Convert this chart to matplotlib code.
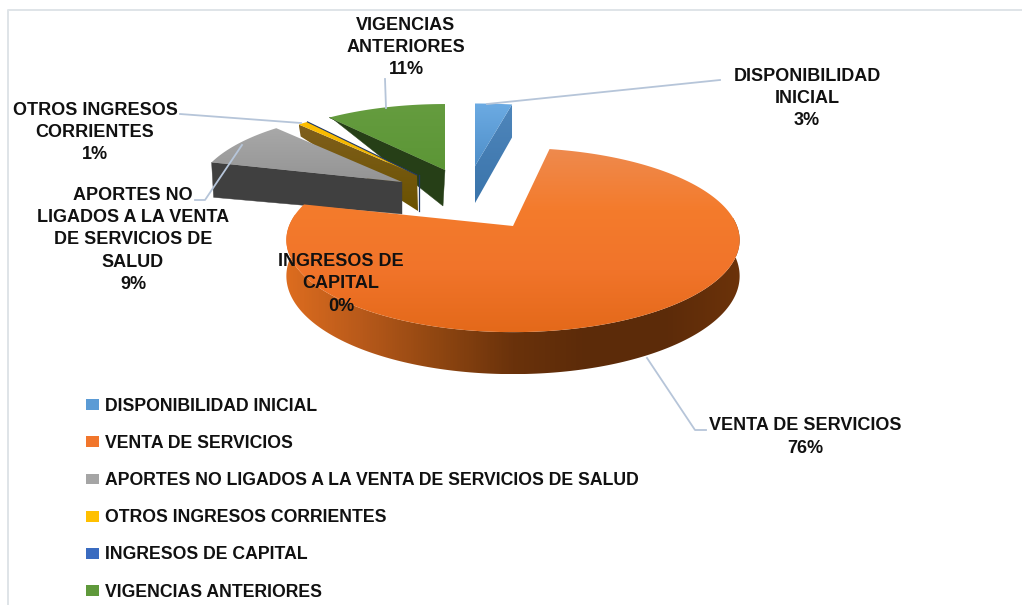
import matplotlib
matplotlib.use("Agg")
import matplotlib.pyplot as plt
import matplotlib.colors as mcolors
from matplotlib.patches import Patch, Polygon
import numpy as np

# Data
categories = [
    "DISPONIBILIDAD INICIAL",
    "VENTA DE SERVICIOS",
    "APORTES NO LIGADOS A LA VENTA DE SERVICIOS DE SALUD",
    "OTROS INGRESOS CORRIENTES",
    "INGRESOS DE CAPITAL",
    "VIGENCIAS ANTERIORES",
]
values = [3, 76, 9, 1, 0, 11]
wrapped_labels = [
    "DISPONIBILIDAD\nINICIAL",
    "VENTA DE SERVICIOS",
    "APORTES NO\nLIGADOS A LA VENTA\nDE SERVICIOS DE\nSALUD",
    "OTROS INGRESOS\nCORRIENTES",
    "INGRESOS DE\nCAPITAL",
    "VIGENCIAS\nANTERIORES",
]

# Styles and layout (pixels of the 1022x605 picture)
swatches = ["#5b9bd5", "#f1762c", "#a5a5a5", "#ffc000", "#3a6bc0", "#5f993b"]
wall_colors = ["#3f78ad", "#5c2b09", "#404040", "#6e5400", "#203864", "#263f17"]
centers = [(475, 166), (513, 226), (402, 182), (417, 175), (417, 175), (445, 170)]
radii_x = [227, 224, 204, 192, 192, 203]
radii_y = [72, 90, 82, 77, 77, 76]
depths = [37, 42, 32, 36, 36, 36]
outer_depths = [33, 0, 35, 12, 0, 0]
wall_shift = [0, 0, 0, 1, 0, -2]
label_pos = [(807, 98.5), (805, 437), (133, 240), (95, 132.5), (341, 284), (406, 47.5)]
perspective = 0.152
font = "Liberation Sans"
fsize = 13
legend_fsize = 12.7
leader = "#b6c5d9"


def project(i, theta):
    # clockwise from the top of the pie, with the back of the pie a bit smaller
    sx, cy_ = np.sin(theta), np.cos(theta)
    w = 1 + perspective * cy_
    return (centers[i][0] + radii_x[i] * sx / w, centers[i][1] - radii_y[i] * cy_ / w)


def gradient_fill(ax, poly, stops, zorder, horizontal=False):
    verts = np.array(poly)
    x0, y0 = verts.min(axis=0)
    x1, y1 = verts.max(axis=0)
    cmap = mcolors.LinearSegmentedColormap.from_list("g", stops)
    ramp = np.linspace(0, 1, 128)
    ramp = ramp.reshape(1, -1) if horizontal else ramp.reshape(-1, 1)
    im = ax.imshow(ramp, cmap=cmap, aspect="auto", extent=(x0, x1, y1, y0),
                   zorder=zorder, interpolation="bilinear")
    im.set_clip_path(Polygon(poly, closed=True, transform=ax.transData))


fig = plt.figure(figsize=(10.22, 6.05), dpi=100)
ax = fig.add_axes([0, 0, 1, 1])
ax.axis("off")

# Slices, back ones first
edges = np.cumsum([0] + values) / sum(values) * 2 * np.pi
top_shades = {
    0: ["#6cabe3", "#4f8fc9"],
    1: ["#ee8a4e", "#f47b2c", "#f1742a", "#e4691a"],
    2: ["#a8a8a8", "#949494"],
    3: ["#ffc000", "#e8ae00"],
    5: ["#659c3f", "#5c9636"],
}
order = [5, 3, 4, 2, 0, 1]
for i in order:
    a0, a1 = edges[i], edges[i + 1]
    thetas = np.linspace(a0, a1, max(int((a1 - a0) * 60), 2))
    arc = [project(i, t) for t in thetas]
    cx, cy = centers[i]
    d = depths[i]
    z = 2 + order.index(i) * 0.1

    if values[i] == 0:
        # zero share: only a thin edge shows
        ax.plot([cx, arc[0][0]], [cy, arc[0][1]], color=wall_colors[i], lw=0.8, zorder=z + 0.05)
        ax.plot([cx + 1.5, cx + 1.5], [cy, cy + d], color=wall_colors[i], lw=0.9, zorder=z + 0.05)
        continue

    if i == 1:
        # outer wall, shading runs from light on the left to dark on the right
        front = [t for t in thetas if np.pi / 2 - 0.1 < t < 1.5 * np.pi + 0.15]
        upper = [project(i, t) for t in front]
        lower = [(p[0], p[1] + d - 7 * (1 + np.cos(t))) for p, t in zip(upper, front)]
        wall = upper + lower[::-1]
        gradient_fill(ax, wall, ["#dc6c1f", "#b7591a", "#8f4611", "#6a320b", "#5c2b09",
                                 "#5c2b09", "#6b3209"], z, horizontal=True)
    elif i == 0:
        # blue: right cut face is visible
        p = arc[-1]
        wall = [p, (p[0], p[1] + outer_depths[i]), (cx, cy + d), (cx, cy)]
        gradient_fill(ax, wall, ["#4f86bb", "#3a74ab"], z)
    else:
        # cut face at the start of the slice
        p = arc[0]
        wall = [p, (p[0] + 2, p[1] + outer_depths[i]), (cx + wall_shift[i], cy + d), (cx, cy)]
        if i == 3:
            gradient_fill(ax, wall, ["#805f1c", "#6a5200"], z)
        else:
            ax.add_patch(Polygon(wall, closed=True, fc=wall_colors[i], ec=wall_colors[i], lw=0.3, zorder=z))

    gradient_fill(ax, [(cx, cy)] + arc, top_shades[i], z + 0.03)

# Frame of the chart
ax.plot([8, 8, 1022], [605, 10, 10], color="#dfe4e8", lw=1.4, zorder=1)

# Leader lines
leaders = [
    ([487, 720], [104, 80]),
    ([647, 695, 706], [358, 430, 430]),
    ([242, 205, 195], [145, 200, 200]),
    ([301, 180], [123, 114]),
    ([386, 385], [108, 79]),
]
for xs, ys in leaders:
    ax.plot(xs, ys, color=leader, lw=1.3, zorder=4)

# Labels
for lab, v, (x, y) in zip(wrapped_labels, values, label_pos):
    ax.text(x, y, f"{lab}\n{v}%", ha="center", va="center", family=font, weight="bold",
            fontsize=fsize, color="#111111", linespacing=1.42, zorder=6)

handles = [Patch(fc=c, ec="none", label=n) for c, n in zip(swatches, categories)]
leg = ax.legend(handles=handles, loc="upper left", bbox_to_anchor=(86, 398),
                bbox_transform=ax.transData, frameon=False, borderpad=0, borderaxespad=0,
                handlelength=0.75, handleheight=0.58, handletextpad=0.3,
                labelspacing=1.14, prop={"family": font, "weight": "bold", "size": legend_fsize})
for t in leg.get_texts():
    t.set_color("#111111")

ax.set_xlim(0, 1022)
ax.set_ylim(605, 0)
fig.savefig("out.png", dpi=100)
